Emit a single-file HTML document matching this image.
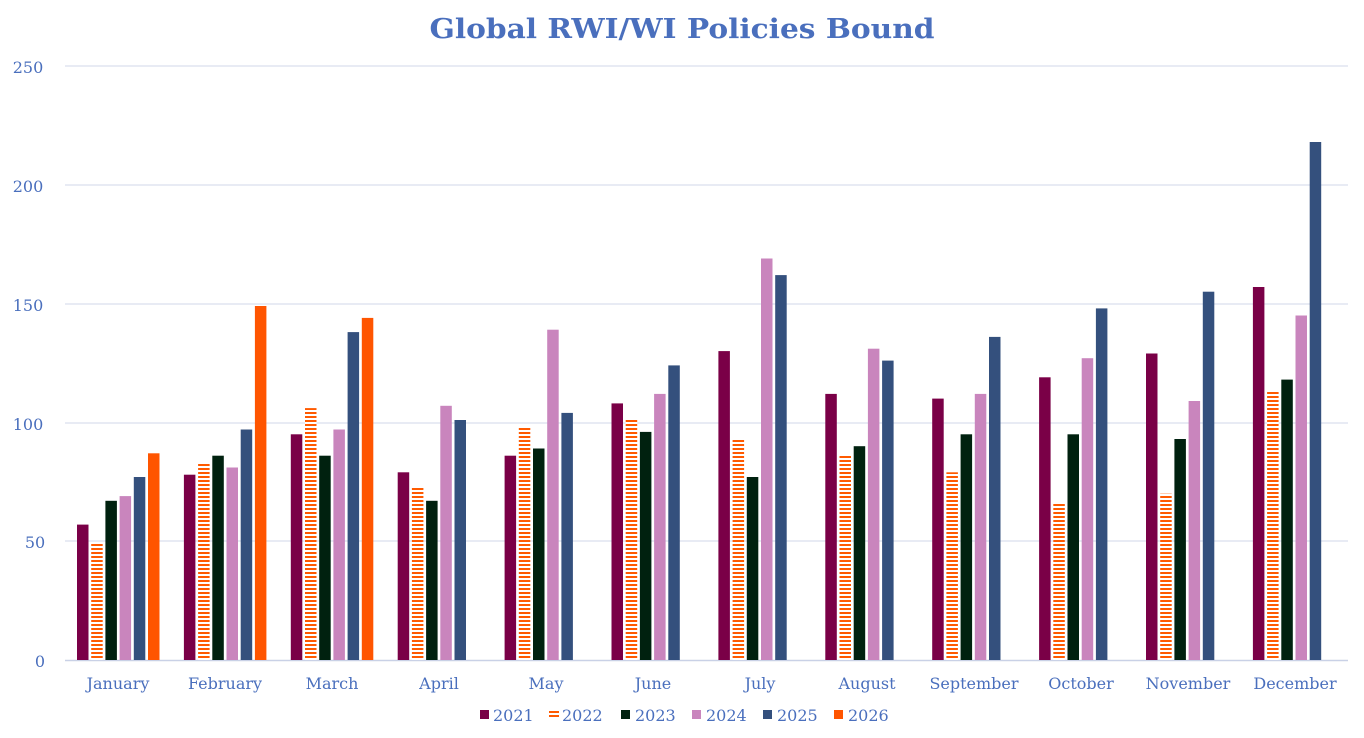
<!DOCTYPE html>
<html><head><meta charset="utf-8"><style>
html,body{margin:0;padding:0;background:#fff;}
svg{display:block;font-family:"DejaVu Serif","Liberation Serif",serif;}
</style></head><body>
<svg id="c" width="1364" height="738" viewBox="0 0 1364 738" xmlns="http://www.w3.org/2000/svg">
<defs>
<pattern id="st" width="4" height="4" patternUnits="userSpaceOnUse">
<rect width="4" height="4" fill="#fff"/><rect y="0" width="4" height="2" fill="#ff5a00"/>
</pattern>
</defs>
<text x="682" y="38" text-anchor="middle" font-size="27" font-weight="bold" fill="#4a6fbd" textLength="505" lengthAdjust="spacingAndGlyphs">Global RWI/WI Policies Bound</text>
<g stroke="#d9dfee" stroke-width="1.3">
<line x1="65" x2="1348" y1="66" y2="66"/><line x1="65" x2="1348" y1="185" y2="185"/>
<line x1="65" x2="1348" y1="304" y2="304"/><line x1="65" x2="1348" y1="423" y2="423"/>
<line x1="65" x2="1348" y1="541" y2="541"/>
</g>
<line x1="65" x2="1348" y1="660.5" y2="660.5" stroke="#c9d1e6" stroke-width="1.5"/>
<g font-size="16" fill="#4a6fbd" text-anchor="middle">
<text x="28" y="73">250</text><text x="28" y="192">200</text><text x="28" y="311">150</text>
<text x="28" y="430">100</text><text x="35" y="548">50</text><text x="40" y="667">0</text>
</g>
<g id="bars"></g>
<g font-size="16" fill="#4a6fbd" text-anchor="middle">
<text x="118" y="689">January</text><text x="225" y="689">February</text><text x="332" y="689">March</text>
<text x="439" y="689">April</text><text x="546" y="689">May</text><text x="653" y="689">June</text>
<text x="760" y="689">July</text><text x="867" y="689">August</text><text x="974" y="689">September</text>
<text x="1081" y="689">October</text><text x="1188" y="689">November</text><text x="1295" y="689">December</text>
</g>
<g font-size="16" fill="#4a6fbd">
<rect x="480" y="710" width="9" height="9" fill="#7a0047"/><text x="493" y="721">2021</text>
<rect x="549" y="711" width="10" height="2" fill="#ff5a00"/><rect x="549" y="715" width="10" height="2" fill="#ff5a00"/><text x="562" y="721">2022</text>
<rect x="621" y="710" width="9" height="9" fill="#00210f"/><text x="635" y="721">2023</text>
<rect x="692" y="710" width="9" height="9" fill="#c985bd"/><text x="706" y="721">2024</text>
<rect x="763" y="710" width="9" height="9" fill="#34507d"/><text x="777" y="721">2025</text>
<rect x="834" y="710" width="9" height="9" fill="#ff5500"/><text x="848" y="721">2026</text>
</g>
</svg>
<script>
var d=[[57,49,67,69,77,87],[78,83,86,81,97,149],[95,106,86,97,138,144],[79,73,67,107,101],[86,98,89,139,104],[108,101,96,112,124],[130,93,77,169,162],[112,86,90,131,126],[110,79,95,112,136],[119,66,95,127,148],[129,70,93,109,155],[157,113,118,145,218]];
var col=["#7a0047","url(#st)","#00210f","#c985bd","#34507d","#ff5500"];
var g=document.getElementById("bars"),s="";
for(var i=0;i<12;i++){var x0=65+i*106.9+12;for(var j=0;j<d[i].length;j++){var h=d[i][j]*2.376;var x=x0+j*14.2;
s+='<rect x="'+x.toFixed(1)+'" y="'+(660-h).toFixed(1)+'" width="11.5" height="'+h.toFixed(1)+'" fill="'+col[j]+'"/>';}}
g.innerHTML=s;
</script>
</body></html>
